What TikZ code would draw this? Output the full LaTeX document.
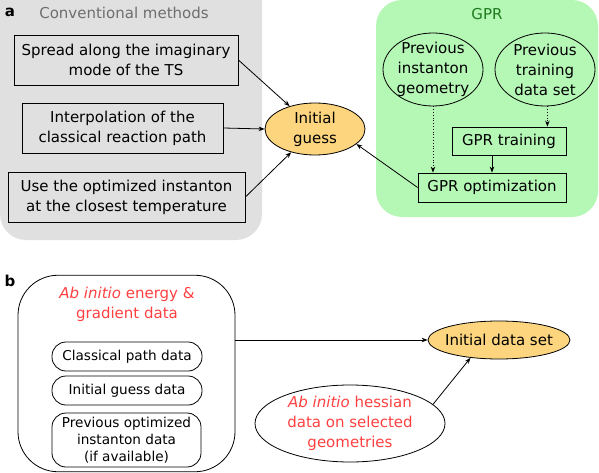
\documentclass[tikz,border=0pt]{standalone}
\usepackage{fontspec}
\setmainfont{DejaVu Sans}
\usetikzlibrary{shapes.geometric,arrows.meta}
\definecolor{panelgray}{HTML}{E0E0E0}
\definecolor{panelgreen}{HTML}{B5F7B5}
\definecolor{guessorange}{HTML}{FDD57E}
\definecolor{redtext}{HTML}{FF4040}
\definecolor{darkgreen}{HTML}{1E7A1E}
\definecolor{graytext}{HTML}{6E6E6E}
\tikzset{
  txt/.style={font=\fontsize{15}{20}\selectfont, align=center, inner sep=0pt},
  stxt/.style={font=\fontsize{13.6}{17}\selectfont, align=center, inner sep=0pt},
  sbox/.style={draw, line width=0.8pt, txt},
  rbox/.style={draw, line width=0.8pt, rounded corners=14pt, stxt},
  ell/.style={draw, line width=0.8pt, ellipse, inner sep=0pt},
  arr/.style={line width=0.8pt, -{Stealth[length=6pt,width=4.5pt]}},
  darr/.style={arr, dotted},
}
\begin{document}
\begin{tikzpicture}[x=1pt,y=-1pt]
\useasboundingbox (0,0) rectangle (599,473);
% panel a backgrounds
\fill[panelgray, rounded corners=26pt] (0,-30) rectangle (262,240);
\fill[panelgray] (0,0) rectangle (30,30);
\fill[panelgreen, rounded corners=26pt] (376,0) rectangle (598,217);
\node[font=\fontsize{15}{18}\selectfont\bfseries, inner sep=0pt] (la) at (10,12) {a};
\node[txt, text=graytext] (cm) at (124,13) {Conventional methods};
\node[txt, text=darkgreen] (gprt) at (487,14) {GPR};
% conventional boxes
\node[sbox, minimum width=224pt, minimum height=50pt] (b1) at (126,60) {Spread along the imaginary\\mode of the TS};
\node[sbox, minimum width=201pt, minimum height=50pt] (b2) at (122.5,128) {Interpolation of the\\classical reaction path};
\node[sbox, minimum width=237pt, minimum height=50pt] (b3) at (126.5,197) {Use the optimized instanton\\at the closest temperature};
% initial guess
\node[ell, fill=guessorange, minimum width=100pt, minimum height=52pt] (ig) at (315,129) {};
\node[txt] (igt) at (ig) {Initial\\guess};
% GPR
\node[ell, minimum width=100pt, minimum height=73pt] (pg) at (433,69.5) {};
\node[txt] (pgt) at (pg) {Previous\\instanton\\geometry};
\node[ell, minimum width=100pt, minimum height=73pt] (pd) at (545,69.5) {};
\node[txt] (pdt) at (pd) {Previous\\training\\data set};
\node[sbox, minimum width=114pt, minimum height=28pt] (tr) at (509,141) {GPR training};
\node[sbox, minimum width=148pt, minimum height=29pt] (op) at (492,187.5) {GPR optimization};
% arrows a
\draw[arr] (b1.east) -- (ig);
\draw[arr] (b2.east) -- (ig.west);
\draw[arr] (b3.east) -- (ig);
\draw[arr] (op.west) -- (ig.-20);
\draw[darr] (pg.south) -- (pg.south |- op.north);
\draw[darr] (pd.south -| tr.north east) ++(-19,0) coordinate (pds) -- (pds |- tr.north);
\draw[arr] (op.north |- tr.south) -- (op.north);
% panel b
\node[font=\fontsize{15}{18}\selectfont\bfseries, inner sep=0pt] (lb) at (10,281) {b};
\node[draw, line width=0.8pt, rounded corners=40pt, minimum width=217pt, minimum height=196.5pt] (big) at (126.5,373.5) {};
\node[txt, text=redtext] (bigt) at (127,304.5) {\textit{Ab initio} energy \&\\gradient data};
\node[rbox, minimum width=150pt, minimum height=29pt] (c1) at (127,356.5) {Classical path data};
\node[rbox, minimum width=150pt, minimum height=29pt] (c2) at (127,390.5) {Initial guess data};
\node[rbox, minimum width=149pt, minimum height=54pt] (c3) at (126.5,440) {Previous optimized\\instanton data\\(if available)};
\node[ell, fill=guessorange, minimum width=142pt, minimum height=38pt] (ids) at (499,340) {};
\node[txt] (idst) at (ids) {Initial data set};
\node[ell, minimum width=190pt, minimum height=77pt] (hs) at (350,423.5) {};
\node[txt, text=redtext] (hst) at (hs) {\textit{Ab initio} hessian\\data on selected\\geometries};
\draw[arr] (big.east |- ids.west) -- (ids.west);
\draw[arr] (hs.13) -- (ids.-148);
\end{tikzpicture}
\end{document}
